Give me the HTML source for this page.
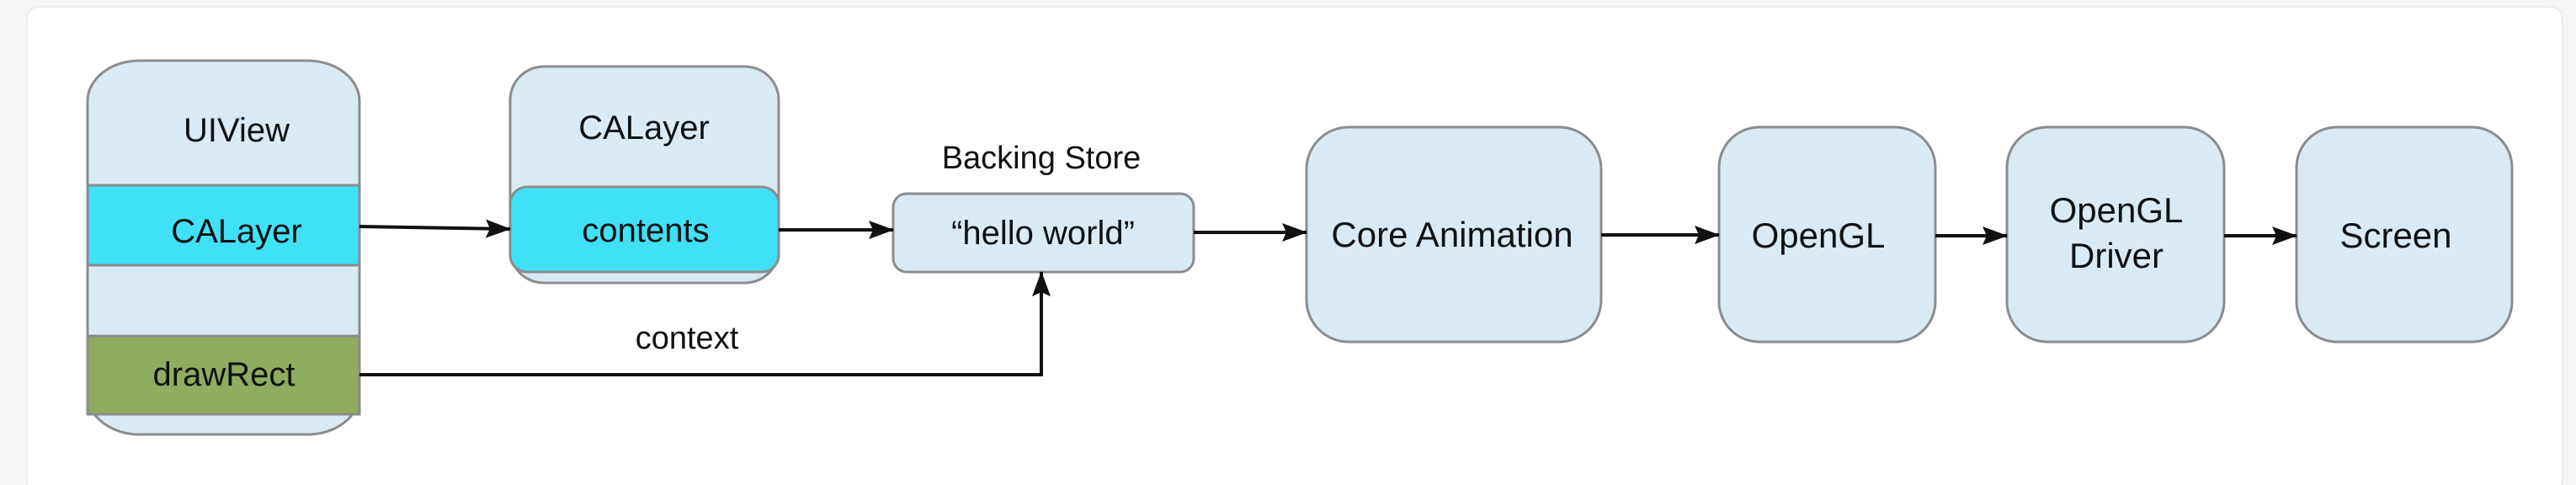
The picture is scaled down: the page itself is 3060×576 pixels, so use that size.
<!DOCTYPE html>
<html><head><meta charset="utf-8"><style>
html,body{margin:0;padding:0;background:#f6f6f6;width:3060px;height:576px;overflow:hidden;}
svg{display:block;}
text{font-family:"Liberation Sans",Arial,sans-serif;fill:#111;}
</style></head><body>
<svg width="3060" height="576" viewBox="0 0 3060 576" xmlns="http://www.w3.org/2000/svg">
<defs>
<marker id="ab" viewBox="0 0 30 22" markerWidth="30" markerHeight="22" refX="29" refY="11" orient="auto" markerUnits="userSpaceOnUse">
<path d="M0,0 L30,11 L0,22 L5,11 Z" fill="#111"/>
</marker>
<clipPath id="uiclip"><rect x="104" y="72" width="323" height="444" rx="62" ry="48"/></clipPath>
</defs>
<rect x="32" y="8" width="3012" height="580" rx="14" fill="#fff" stroke="#ececec" stroke-width="2"/>

<!-- UIView -->
<rect x="104" y="72" width="323" height="444" rx="62" ry="48" fill="#daeaf5" stroke="#8c8c8c" stroke-width="3"/>
<rect x="104" y="399" width="323" height="93" fill="#8fac60" stroke="#8c8c8c" stroke-width="3"/>
<rect x="104" y="220" width="323" height="95" fill="#40e0f6" stroke="#8c8c8c" stroke-width="3"/>
<text x="281" y="168" font-size="40" text-anchor="middle">UIView</text>
<text x="281" y="288" font-size="40" text-anchor="middle">CALayer</text>
<text x="266" y="458" font-size="40" text-anchor="middle">drawRect</text>

<!-- CALayer -->
<rect x="606" y="79" width="319" height="257" rx="40" fill="#daeaf5" stroke="#8c8c8c" stroke-width="3"/>
<rect x="606" y="222" width="319" height="101" rx="20" fill="#40e0f6" stroke="#8c8c8c" stroke-width="3"/>
<text x="765" y="165" font-size="40" text-anchor="middle">CALayer</text>
<text x="767" y="287" font-size="40" text-anchor="middle">contents</text>

<!-- Backing store -->
<text x="1237" y="200" font-size="38" text-anchor="middle">Backing Store</text>
<rect x="1061" y="230" width="357" height="93" rx="16" fill="#daeaf5" stroke="#8c8c8c" stroke-width="3"/>
<text x="1239" y="290" font-size="40" text-anchor="middle">“hello world”</text>

<!-- Core Animation -->
<rect x="1552" y="151" width="350" height="255" rx="50" fill="#daeaf5" stroke="#8c8c8c" stroke-width="3"/>
<text x="1725" y="293" font-size="42" text-anchor="middle">Core Animation</text>

<rect x="2042" y="151" width="257" height="255" rx="48" fill="#daeaf5" stroke="#8c8c8c" stroke-width="3"/>
<text x="2160" y="294" font-size="42" text-anchor="middle">OpenGL</text>

<rect x="2384" y="151" width="258" height="255" rx="48" fill="#daeaf5" stroke="#8c8c8c" stroke-width="3"/>
<text x="2514" y="264" font-size="42" text-anchor="middle">OpenGL</text>
<text x="2514" y="318" font-size="42" text-anchor="middle">Driver</text>

<rect x="2728" y="151" width="256" height="255" rx="48" fill="#daeaf5" stroke="#8c8c8c" stroke-width="3"/>
<text x="2846" y="294" font-size="42" text-anchor="middle">Screen</text>

<!-- connectors -->
<g stroke="#111" stroke-width="4" fill="none">
<line x1="427" y1="269" x2="606" y2="272" marker-end="url(#ab)"/>
<line x1="925" y1="273" x2="1061" y2="273" marker-end="url(#ab)"/>
<line x1="1418" y1="276" x2="1552" y2="276" marker-end="url(#ab)"/>
<line x1="1902" y1="279" x2="2042" y2="279" marker-end="url(#ab)"/>
<line x1="2299" y1="280" x2="2384" y2="280" marker-end="url(#ab)"/>
<line x1="2642" y1="280" x2="2728" y2="280" marker-end="url(#ab)"/>
<polyline points="427,445 1237,445 1237,323" marker-end="url(#ab)"/>
</g>
<text x="816" y="414" font-size="38" text-anchor="middle">context</text>
</svg>
</body></html>
